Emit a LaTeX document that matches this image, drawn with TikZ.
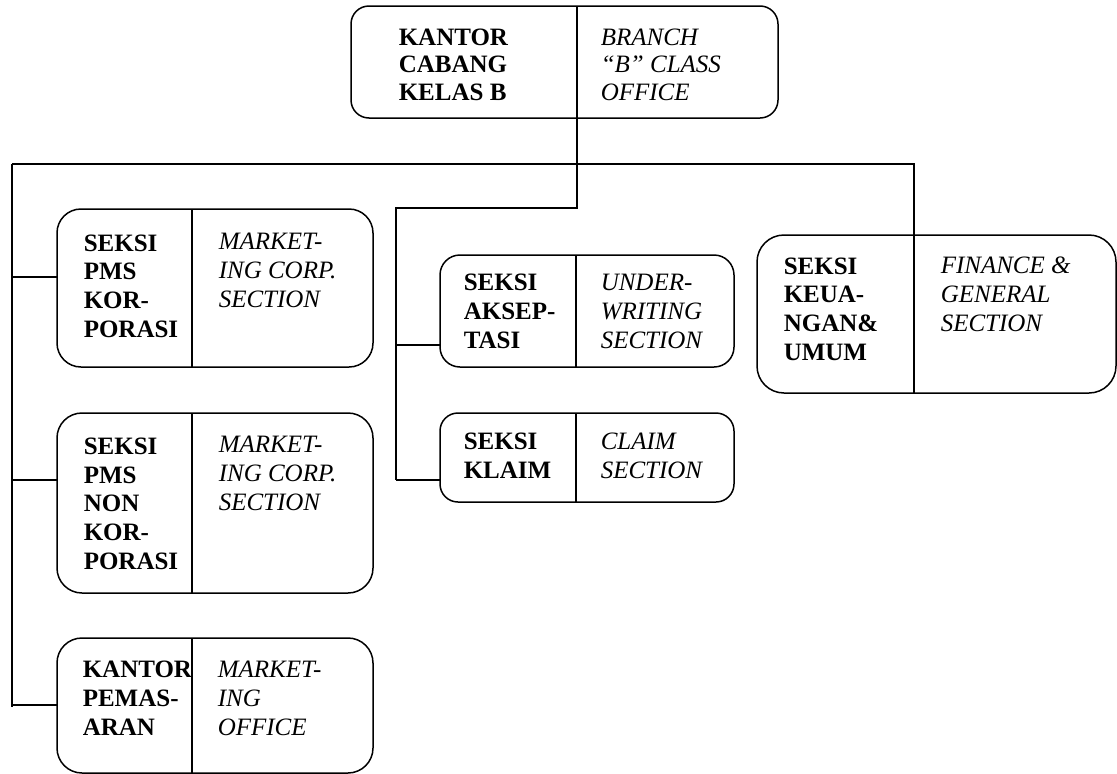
\documentclass[tikz,border=0pt]{standalone}
\usepackage{fontspec}
\setmainfont{Liberation Serif}
\begin{document}
\begin{tikzpicture}[x=1pt,y=-1pt,
  line width=1.5pt,
  orgbox/.style={draw, rectangle, inner sep=0pt, outer sep=0pt},
  bt/.style={anchor=base west, inner sep=0pt, align=left, font=\fontsize{25pt}{28.6pt}\selectfont\bfseries},
  it/.style={anchor=base west, inner sep=0pt, align=left, font=\fontsize{25pt}{28.6pt}\selectfont\itshape}]
\useasboundingbox (0,0) rectangle (1117,774);
% boxes
\node[orgbox, rounded corners=18pt, minimum width=427pt, minimum height=112pt] (top) at (564.5,62) {};
\node[orgbox, rounded corners=24pt, minimum width=316pt, minimum height=158pt] (b1) at (215,288) {};
\node[orgbox, rounded corners=25pt, minimum width=316pt, minimum height=180pt] (b2) at (215,503) {};
\node[orgbox, rounded corners=25pt, minimum width=316pt, minimum height=135pt] (b3) at (215,705.5) {};
\node[orgbox, rounded corners=20pt, minimum width=294pt, minimum height=112pt] (aks) at (587,311) {};
\node[orgbox, rounded corners=18pt, minimum width=294pt, minimum height=89pt] (klm) at (587,457.5) {};
\node[orgbox, rounded corners=27pt, minimum width=359pt, minimum height=158pt] (fin) at (936.5,314) {};
% divider positions
\coordinate (topdiv) at (577,0);
\coordinate (leftdiv) at (192,0);
\coordinate (middiv) at (576,0);
\coordinate (findiv) at (914,0);
\foreach \b/\d in {top/topdiv, b1/leftdiv, b2/leftdiv, b3/leftdiv, aks/middiv, klm/middiv, fin/findiv}
  \draw (\b.north -| \d) -- (\b.south -| \d);
% texts (anchored at the baseline of their last line)
\node[bt, font=\fontsize{25pt}{27.5pt}\selectfont\bfseries] (t0a) at (398,100) {KANTOR\\CABANG\\KELAS B};
\node[it, font=\fontsize{25pt}{27.5pt}\selectfont\itshape] (t0b) at (600,100) {BRANCH\\“B” CLASS\\OFFICE};
\node[bt] (t1a) at (83,337) {SEKSI\\PMS\\KOR-\\PORASI};
\node[it] (t1b) at (218,307) {MARKET-\\ING CORP.\\SECTION};
\node[bt] (t2a) at (83,569) {SEKSI\\PMS\\NON\\KOR-\\PORASI};
\node[it] (t2b) at (218,510) {MARKET-\\ING CORP.\\SECTION};
\node[bt] (t3a) at (82,735) {KANTOR\\PEMAS-\\ARAN};
\node[it] (t3b) at (217,735) {MARKET-\\ING\\OFFICE};
\node[bt] (t4a) at (463,348) {SEKSI\\AKSEP-\\TASI};
\node[it] (t4b) at (600,348) {UNDER-\\WRITING\\SECTION};
\node[bt] (t5a) at (463,478) {SEKSI\\KLAIM};
\node[it] (t5b) at (600,478) {CLAIM\\SECTION};
\node[bt] (t6a) at (783,360) {SEKSI\\KEUA-\\NGAN\&\\UMUM};
\node[it] (t6b) at (940,331) {FINANCE \&\\GENERAL\\SECTION};
% connector coordinates
\coordinate (hL) at (12,164);
\coordinate (hM) at (577,164);
\coordinate (hR) at (914,164);
\coordinate (mbend) at (577,208);
\coordinate (mleft) at (396,208);
\coordinate (mend) at (396,480);
\coordinate (lend) at (12,707);
\coordinate (c1) at (12,277);
\coordinate (c2) at (12,480);
\coordinate (c3) at (12,705);
\coordinate (c4) at (396,345);
\coordinate (c5) at (396,480);
% connectors
\draw (top.south -| topdiv) -- (hM);
\draw (hL) -- (hR) -- (fin.north -| findiv);
\draw (hM) -- (mbend) -- (mleft) -- (mend);
\draw (hL) -- (lend);
\draw (c1) -- (c1 -| b1.west);
\draw (c2) -- (c2 -| b2.west);
\draw (c3) -- (c3 -| b3.west);
\draw (c4) -- (c4 -| aks.west);
\draw (c5) -- (c5 -| klm.west);
\end{tikzpicture}
\end{document}
